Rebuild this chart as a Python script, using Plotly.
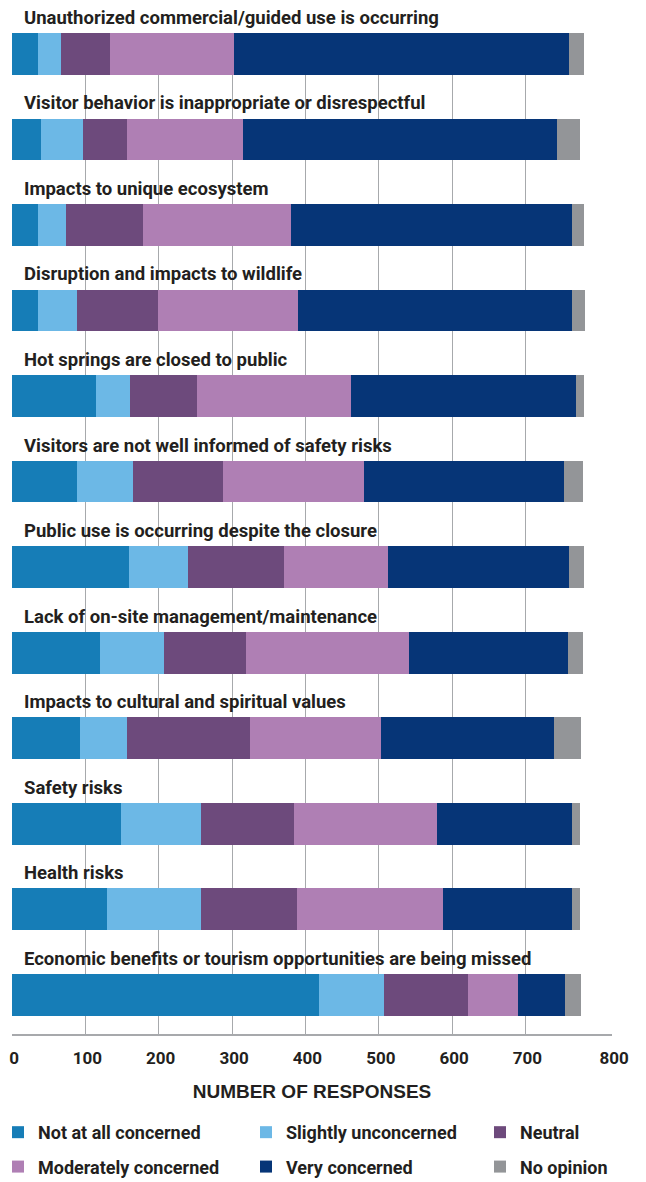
import plotly.graph_objects as go

categories = [
    "Unauthorized commercial/guided use is occurring",
    "Visitor behavior is inappropriate or disrespectful",
    "Impacts to unique ecosystem",
    "Disruption and impacts to wildlife",
    "Hot springs are closed to public",
    "Visitors are not well informed of safety risks",
    "Public use is occurring despite the closure",
    "Lack of on-site management/maintenance",
    "Impacts to cultural and spiritual values",
    "Safety risks",
    "Health risks",
    "Economic benefits or tourism opportunities are being missed",
]

not_at_all = [36, 40, 36, 36, 114, 89, 160, 120, 93, 149, 129, 418]
slightly = [31, 57, 37, 53, 47, 76, 80, 87, 64, 109, 129, 89]
neutral = [67, 60, 105, 110, 91, 123, 131, 112, 168, 127, 131, 115]
moderately = [168, 158, 202, 191, 210, 192, 141, 222, 178, 194, 198, 68]
very = [457, 428, 383, 374, 307, 273, 247, 217, 236, 184, 176, 64]
no_opinion = [21, 31, 17, 17, 11, 26, 21, 21, 37, 12, 12, 22]

series_names = ["Not at all concerned", "Slightly unconcerned", "Neutral",
                "Moderately concerned", "Very concerned", "No opinion"]
series_values = [not_at_all, slightly, neutral, moderately, very, no_opinion]
series_colors = ["#167db7", "#6cb8e6", "#6d4a7c", "#af7fb4", "#063577", "#939598"]
legend_ids = ["legend", "legend2", "legend3", "legend", "legend2", "legend3"]

tick_values = [0, 100, 200, 300, 400, 500, 600, 700, 818]
tick_text = ["0", "100", "200", "300", "400", "500", "600", "700", "800"]
x_max = 818

FONT = "Roboto, Liberation Sans, sans-serif"
TXT = "#231f20"

rows = list(range(len(categories)))

fig = go.Figure()
for name, vals, col, lg in zip(series_names, series_values, series_colors, legend_ids):
    fig.add_trace(go.Bar(
        y=rows, x=vals, name=name, orientation="h",
        marker=dict(color=col, line=dict(width=0)),
        width=0.4877, legend=lg, legendgroup=name,
    ))

for i, cat in enumerate(categories):
    fig.add_annotation(
        x=0, xref="x", xshift=10, y=i, yref="y", yshift=36,
        text=cat, showarrow=False, xanchor="left", yanchor="middle",
        font=dict(family=FONT, size=18.5, color=TXT, weight="bold"),
    )

legend_common = dict(
    orientation="v", yanchor="top", xanchor="left",
    font=dict(family=FONT, size=18, color=TXT, weight="bold"),
    bgcolor="rgba(0,0,0,0)", borderwidth=0,
    traceorder="grouped", tracegroupgap=8,
    xref="paper", yref="paper",
)

fig.update_layout(
    width=638, height=1174,
    margin=dict(l=4, r=34, t=25, b=148, autoexpand=False),
    paper_bgcolor="white", plot_bgcolor="white",
    barmode="stack",
    bargap=0,
    xaxis=dict(
        range=[0, x_max], tickvals=tick_values, ticktext=tick_text,
        showgrid=True, gridcolor="#a7a9ac", gridwidth=1,
        zeroline=False, showline=True, linecolor="#a7a9ac", linewidth=1.5,
        ticks="outside", ticklen=8, tickcolor="rgba(0,0,0,0)",
        ticklabeloverflow="allow", ticklabelshift=2,
        tickfont=dict(family=FONT, size=17, color=TXT, weight="bold"),
        title=dict(text="NUMBER OF RESPONSES", standoff=18,
                   font=dict(family="Liberation Sans, sans-serif", size=19, color=TXT, weight="bold")),
        fixedrange=True,
    ),
    yaxis=dict(
        range=[11.458, -0.2439], showgrid=False, zeroline=False,
        showticklabels=False, showline=False, fixedrange=True,
    ),
    legend=dict(x=-0.0233, y=-0.0799, **legend_common),
    legend2=dict(x=0.39, y=-0.0799, **legend_common),
    legend3=dict(x=0.78, y=-0.0799, **legend_common),
)

fig.write_html("out.html")
